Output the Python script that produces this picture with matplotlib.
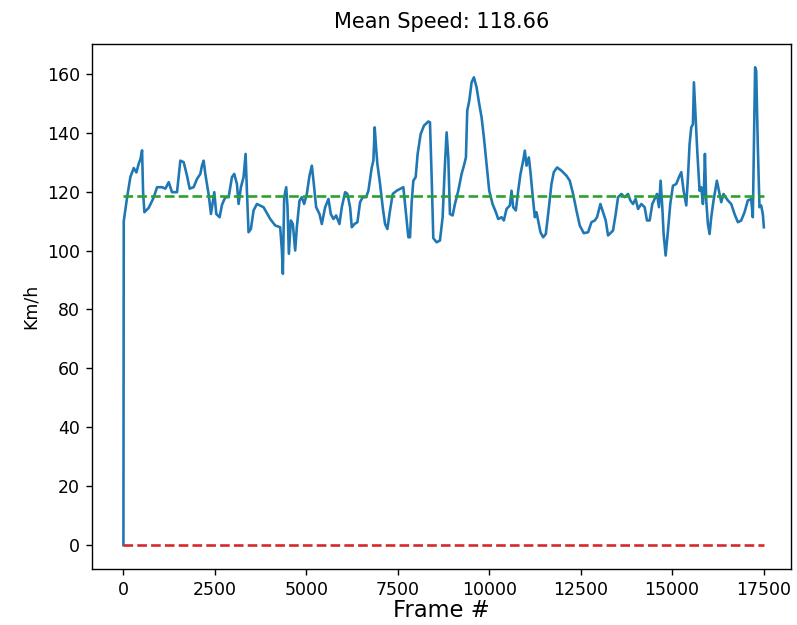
import matplotlib
matplotlib.use("Agg")
import matplotlib.pyplot as plt

# speed trace (frame index, km/h)
frames = [
    0, 9, 100, 191, 282, 355, 418, 464, 510, 537, 573, 692, 828, 919, 1055,
    1147, 1238, 1328, 1465, 1556, 1647, 1738, 1811, 1920, 2011, 2102, 2147,
    2193, 2239, 2330, 2393, 2484, 2539, 2630, 2694, 2785, 2876, 2967, 3030,
    3103, 3148, 3212, 3285, 3340, 3376, 3421, 3485, 3558, 3649, 3831, 4013,
    4150, 4286, 4332, 4359, 4395, 4450, 4486, 4523, 4577, 4632, 4696, 4741,
    4814, 4878, 4941, 5014, 5087, 5151, 5196, 5269, 5360, 5424, 5515, 5606,
    5669, 5742, 5815, 5906, 5970, 6061, 6124, 6197, 6243, 6315, 6397, 6470,
    6543, 6634, 6698, 6789, 6834, 6870, 6907, 6943, 7016, 7089, 7153, 7216,
    7289, 7362, 7471, 7562, 7653, 7726, 7790, 7835, 7881, 7926, 7990, 8044,
    8126, 8217, 8336, 8381, 8427, 8472, 8563, 8654, 8727, 8791, 8836, 8882,
    8927, 9000, 9064, 9155, 9246, 9309, 9364, 9400, 9455, 9519, 9582, 9655,
    9728, 9792, 9855, 9928, 10001, 10092, 10183, 10247, 10338, 10401, 10474,
    10565, 10611, 10656, 10729, 10793, 10856, 10929, 10975, 11020, 11084,
    11129, 11184, 11248, 11293, 11339, 11402, 11475, 11548, 11612, 11703,
    11766, 11857, 11976, 12112, 12203, 12294, 12385, 12476, 12585, 12704,
    12795, 12886, 12949, 13040, 13113, 13186, 13250, 13386, 13459, 13523,
    13614, 13705, 13796, 13859, 13932, 14005, 14069, 14160, 14251, 14314,
    14387, 14460, 14524, 14587, 14642, 14687, 14733, 14769, 14824, 14888,
    14951, 15024, 15115, 15188, 15252, 15315, 15388, 15434, 15479, 15525,
    15570, 15597, 15634, 15688, 15752, 15798, 15843, 15870, 15898, 15934,
    15980, 16025, 16071, 16134, 16225, 16280, 16344, 16407, 16462, 16526,
    16617, 16708, 16799, 16890, 16981, 17072, 17163, 17208, 17270, 17300,
    17345, 17390, 17436, 17481, 17510,
]
speed = [
    0, 110, 118, 125, 128, 126.5, 129.5, 131, 134, 120, 113, 114.5, 118,
    121.5, 121.5, 121, 123.2, 119.8, 119.8, 130.5, 130, 125.4, 121, 121.5,
    124.3, 126, 128.8, 130.5, 126, 119, 112.4, 119.8, 112.4, 111.3, 115.5,
    118.1, 118.1, 124.9, 126, 122.6, 115.8, 121.5, 124.9, 132.8, 120.3, 106.2,
    107.3, 113.6, 115.8, 114.7, 110.7, 108.5, 107.9, 100, 92.1, 118.1, 121.5,
    114.7, 98.9, 110.2, 109, 100, 107.9, 116.9, 118.1, 115.8, 119.2, 125.4,
    128.8, 123.7, 114.7, 112.4, 109, 114.7, 117.5, 112.4, 110.7, 111.9, 109,
    114.7, 119.8, 119.2, 114.7, 107.9, 109, 109.6, 116.4, 118.1, 118.1, 120.3,
    128.2, 130.5, 141.8, 135, 129.4, 122.6, 114.7, 109, 107.3, 113.6, 119.2,
    120.3, 120.9, 121.5, 112.4, 104.5, 104.5, 116.4, 123.7, 124.9, 132.8,
    139.5, 142.4, 143.8, 143.5, 124.9, 104.2, 102.8, 103.4, 111.3, 129.4,
    140.1, 131.6, 112.4, 111.9, 115.8, 120.3, 126, 128.8, 131.6, 147.5, 150.8,
    157.1, 158.8, 155.4, 149.7, 145.2, 138.4, 129.4, 120.3, 115.8, 113, 110.7,
    111.3, 110.2, 114.1, 115.3, 120.3, 114.7, 113.6, 120.3, 126, 130.5, 133.9,
    128.8, 131.6, 126.6, 119.2, 111.3, 113, 110.2, 106.2, 104.5, 105.6, 112.4,
    122.6, 126.6, 128.2, 127.1, 125.4, 123.7, 119.2, 113.6, 108.5, 105.9,
    106.2, 109.6, 110.2, 111.3, 115.8, 113, 110.2, 105.1, 106.8, 112.4, 118.1,
    119.2, 118.1, 119.2, 117, 115.8, 117.5, 114.1, 115.8, 114.7, 110.2, 110.2,
    115.8, 117.5, 119.2, 114.7, 123.7, 114.7, 105.6, 98.3, 106.8, 115.8, 122,
    122.6, 124.9, 126.6, 120.3, 115.3, 124.9, 136.2, 141.8, 142.9, 157.1,
    147.5, 133.9, 120.3, 121.5, 115.8, 120.3, 132.8, 117, 109, 105.6, 111.3,
    117, 123.7, 120.3, 116.4, 119.2, 118.1, 117, 115.8, 112.4, 109.6, 110.2,
    113, 117, 117.5, 111.3, 162.2, 161, 135, 114.7, 115.3, 112.4, 107.9,
]
mean_speed = 118.66
n_frames = 17510


def main():
    fig = plt.figure(figsize=(797 / 125, 625 / 125), dpi=125)
    ax = fig.add_axes([0.1154, 0.0896, 0.877, 0.84])

    ax.plot(frames, speed, color="tab:blue", lw=1.5)
    ax.plot([0, n_frames], [mean_speed, mean_speed], "--", color="tab:green", lw=1.5)
    ax.plot([0, n_frames], [0, 0], "--", color="tab:red", lw=1.5)

    ax.set_xlim(-860, 18250)
    ax.set_ylim(-8.1, 170.1)
    ax.set_xticks(range(0, 17501, 2500))
    ax.set_yticks(range(0, 161, 20))

    ax.set_title(f"Mean Speed: {mean_speed:.2f}", fontsize=12, pad=9)
    ax.set_xlabel("Frame #", fontsize=13, labelpad=0)
    ax.set_ylabel("Km/h", fontsize=10)

    fig.savefig("out.png", dpi=125)
    plt.close(fig)


if __name__ == "__main__":
    main()
